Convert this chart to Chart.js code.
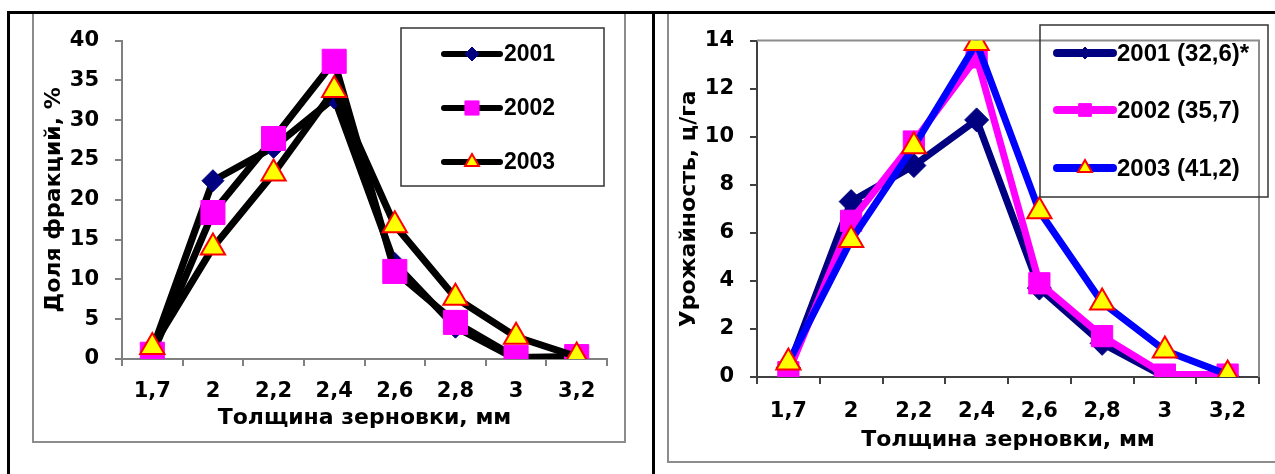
<!DOCTYPE html>
<html><head><meta charset="utf-8">
<script src="https://cdn.jsdelivr.net/npm/chart.js@4.4.1/dist/chart.umd.min.js"></script>
<style>
html,body{margin:0;padding:0;background:#fff;width:1275px;height:474px;overflow:hidden;position:relative}
.abs{position:absolute}
canvas{position:absolute}
</style></head><body>
<div class="abs" style="left:32px;top:13px;width:590px;height:428px;border:2px solid #8c8c8c;border-top:none"></div>
<div class="abs" style="left:667px;top:13px;width:640px;height:448px;border:2px solid #8c8c8c;border-top:none;border-right:none"></div>
<div class="abs" style="left:7px;top:11px;width:1268px;height:3px;background:#000"></div>
<div class="abs" style="left:7px;top:11px;width:3px;height:463px;background:#000"></div>
<div class="abs" style="left:652px;top:11px;width:3px;height:463px;background:#000"></div>
<canvas id="c1" width="592" height="431" style="left:33px;top:12px;width:592px;height:431px"></canvas>
<canvas id="c2" width="607" height="451" style="left:668px;top:12px;width:607px;height:451px"></canvas>
<script>
// ---- data ----
const categories = ['1,7', '2', '2,2', '2,4', '2,6', '2,8', '3', '3,2'];
const shareLabels = ['2001', '2002', '2003'];
const share2001 = [1.2, 22.4, 26.6, 32.8, 12.0, 4.0, 0.0, 0.0];
const share2002 = [0.6, 18.4, 27.7, 37.4, 11.0, 4.6, 0.2, 0.3];
const share2003 = [1.5, 14.0, 23.3, 33.8, 16.8, 7.7, 2.8, 0.3];
const shareTicks = [0, 5, 10, 15, 20, 25, 30, 35, 40];
const yieldLabels = ['2001 (32,6)*', '2002 (35,7)', '2003 (41,2)'];
const yield2001 = [0.4, 7.3, 8.8, 10.7, 3.7, 1.4, 0.0, 0.0];
const yield2002 = [0.2, 6.5, 9.8, 13.3, 3.9, 1.7, 0.1, 0.1];
const yield2003 = [0.6, 5.7, 9.6, 13.9, 6.9, 3.1, 1.1, 0.1];
const yieldTicks = [0, 2, 4, 6, 8, 10, 12, 14];
const xTitle = 'Толщина зерновки, мм';
const yTitleLeft = 'Доля фракций, %';
const yTitleRight = 'Урожайность, ц/га';

const FAMILY = '"DejaVu Sans", "Liberation Sans", Arial, sans-serif';
const LEGEND_FAMILY = '"Liberation Sans", Arial, sans-serif';

function drawMarker(ctx, style, radius, bg, border, bw, x, y) {
  ctx.save();
  ctx.fillStyle = bg; ctx.strokeStyle = border; ctx.lineWidth = bw;
  if (Chart.helpers && Chart.helpers.drawPoint) {
    Chart.helpers.drawPoint(ctx, {pointStyle: style, radius: radius, rotation: 0, borderWidth: bw}, x, y);
  }
  ctx.restore();
}

const legendPlugin = {
  id: 'boxLegend',
  afterDraw(chart, args, opts) {
    const ctx = chart.ctx;
    ctx.save();
    ctx.strokeStyle = opts.boxColor; ctx.lineWidth = opts.boxWidth;
    ctx.strokeRect(opts.box[0], opts.box[1], opts.box[2], opts.box[3]);
    chart.data.datasets.forEach((ds, i) => {
      const it = opts.items[i];
      const y = opts.ys[i];
      ctx.save();
      ctx.strokeStyle = it.lineColor; ctx.lineWidth = opts.lineWidth; ctx.lineCap = 'round';
      ctx.beginPath(); ctx.moveTo(opts.x1, y); ctx.lineTo(opts.x2, y); ctx.stroke();
      ctx.restore();
      drawMarker(ctx, ds.pointStyle, it.r, ds.pointBackgroundColor, ds.pointBorderColor, ds.pointBorderWidth, (opts.x1 + opts.x2) / 2, y);
      ctx.fillStyle = '#000';
      ctx.font = 'bold ' + opts.fontSize + 'px ' + LEGEND_FAMILY;
      ctx.textBaseline = 'middle'; ctx.textAlign = 'left';
      ctx.fillText(ds.label, opts.textX, y + 1);
    });
    ctx.restore();
  }
};

const plotBorderPlugin = {
  id: 'plotBorder',
  beforeDatasetsDraw(chart, args, opts) {
    if (!opts.draw) return;
    const a = chart.chartArea, ctx = chart.ctx;
    ctx.save();
    ctx.strokeStyle = opts.color; ctx.lineWidth = 2;
    ctx.beginPath();
    ctx.moveTo(a.left, a.top); ctx.lineTo(a.right, a.top); ctx.lineTo(a.right, a.bottom);
    ctx.stroke();
    ctx.restore();
  }
};

function makeDs(label, data, color, style, r, bg, border, bw, order) {
  return {
    label: label, data: data, borderColor: color, borderWidth: 7, tension: 0,
    borderJoinStyle: 'round', borderCapStyle: 'round',
    pointStyle: style, pointRadius: r, pointHoverRadius: r,
    pointBackgroundColor: bg, pointBorderColor: border, pointBorderWidth: bw,
    order: order, fill: false
  };
}

function makeOptions(cfg) {
  return {
    responsive: false, animation: false, devicePixelRatio: 1,
    layout: {padding: {left: 0, top: cfg.padTop, right: cfg.padRight, bottom: 0}},
    plugins: {
      legend: {display: false}, tooltip: {enabled: false},
      boxLegend: cfg.legend,
      plotBorder: {draw: cfg.border, color: '#8c8c8c'}
    },
    scales: {
      x: {
        type: 'category', offset: true,
        afterFit: s => { s.height = cfg.xHeight; },
        grid: {display: true, drawOnChartArea: false, drawTicks: true, tickLength: 7, color: cfg.axisColor, lineWidth: 2, offset: true},
        border: {display: true, color: cfg.axisColor, width: 2},
        ticks: {color: '#000', font: {family: FAMILY, size: 21, weight: 'bold'}, padding: cfg.xPad, maxRotation: 0, autoSkip: false},
        title: {display: true, text: xTitle, color: '#000', font: {family: FAMILY, size: 22, weight: 'bold'}, padding: {top: 0, bottom: cfg.xTitlePad}}
      },
      y: {
        min: 0, max: cfg.max,
        afterFit: s => { s.width = 89; },
        afterBuildTicks: s => { s.ticks = cfg.ticks.map(v => ({value: v})); },
        grid: {display: true, drawOnChartArea: false, drawTicks: true, tickLength: 7, color: cfg.axisColor, lineWidth: 2},
        border: {display: true, color: cfg.axisColor, width: 2},
        ticks: {color: '#000', font: {family: FAMILY, size: 21, weight: 'bold'}, padding: 16},
        title: {display: true, text: cfg.yTitle, color: '#000', font: {family: FAMILY, size: 22, weight: 'bold'}, padding: {top: 8, bottom: 0}}
      }
    }
  };
}

new Chart(document.getElementById('c1'), {
  type: 'line',
  data: {
    labels: categories,
    datasets: [
      makeDs(shareLabels[0], share2001, '#000000', 'rectRot', 11, '#000080', '#000080', 1, 2),
      makeDs(shareLabels[1], share2002, '#000000', 'rect', 17, '#FF00FF', '#FF00FF', 1, 1),
      makeDs(shareLabels[2], share2003, '#000000', 'triangle', 14, '#FFFF00', '#FF0000', 2, 0)
    ]
  },
  options: makeOptions({
    padTop: 24, padRight: 11, xHeight: 84, xPad: 13, xTitlePad: 12, axisColor: '#808080',
    max: 40, ticks: shareTicks, yTitle: yTitleLeft, border: false,
    legend: {box: [368, 16, 203, 158], boxColor: '#333', boxWidth: 1.5,
      x1: 411, x2: 467, textX: 471, ys: [42, 96, 150], lineWidth: 6, fontSize: 23,
      items: [{lineColor: '#000', r: 7}, {lineColor: '#000', r: 10}, {lineColor: '#000', r: 8}]}
  }),
  plugins: [legendPlugin, plotBorderPlugin]
});

new Chart(document.getElementById('c2'), {
  type: 'line',
  data: {
    labels: categories,
    datasets: [
      makeDs(yieldLabels[0], yield2001, '#000080', 'rectRot', 12, '#000080', '#000080', 1, 2),
      makeDs(yieldLabels[1], yield2002, '#FF00FF', 'rect', 15, '#FF00FF', '#FF00FF', 1, 1),
      makeDs(yieldLabels[2], yield2003, '#0000FF', 'triangle', 14, '#FFFF00', '#FF0000', 2, 0)
    ]
  },
  options: makeOptions({
    padTop: 25, padRight: 14, xHeight: 86, xPad: 15, xTitlePad: 10, axisColor: '#404040',
    max: 14, ticks: yieldTicks, yTitle: yTitleRight, border: true,
    legend: {box: [372, 13, 228, 172], boxColor: '#333', boxWidth: 1.5,
      x1: 389, x2: 445, textX: 449, ys: [41, 98, 156], lineWidth: 8, fontSize: 24,
      items: [{lineColor: '#000080', r: 6}, {lineColor: '#FF00FF', r: 9}, {lineColor: '#0000FF', r: 8}]}
  }),
  plugins: [legendPlugin, plotBorderPlugin]
});
</script>
</body></html>
